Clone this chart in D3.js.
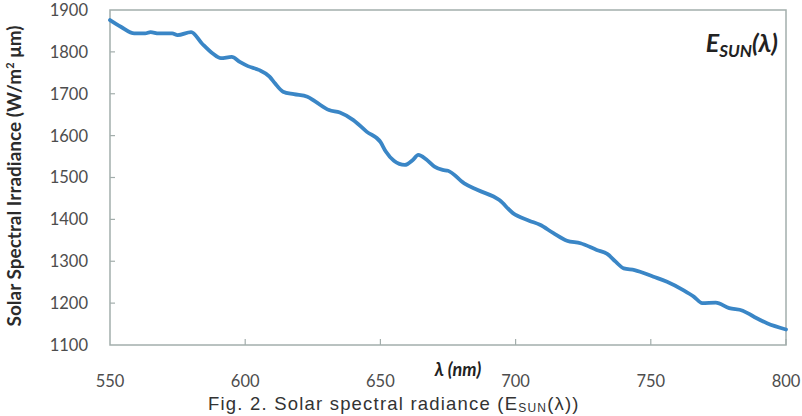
<!DOCTYPE html>
<html>
<head>
<meta charset="utf-8">
<script src="https://cdn.jsdelivr.net/npm/d3@7"></script>
<style>
  body { margin: 0; background: #fff; }
  svg { display: block; }
</style>
</head>
<body>
<svg id="chart"></svg>
<script>
// wavelength (nm) and irradiance
const wavelengths = [550, 554, 559, 563, 565, 568, 573, 575, 580, 584, 588, 591, 595, 598, 601, 605, 609, 611, 614, 618,
  623, 626, 631, 635, 640, 645, 650, 652, 655, 659, 662, 664, 667, 670, 673, 675, 681, 686, 694, 699,
  705, 709, 714, 719, 724, 730, 734, 737, 740, 744, 751, 756, 762, 766, 769, 774, 779, 784, 788, 793, 800];
const irradiance = [1876, 1860, 1844, 1844, 1847, 1844, 1844, 1840, 1847, 1820, 1796, 1785, 1788, 1776, 1766, 1757, 1741, 1725, 1705, 1699,
  1693, 1681, 1661, 1655, 1637, 1609, 1585, 1562, 1540, 1530, 1542, 1554, 1543, 1526, 1518, 1516, 1486, 1470, 1446, 1415,
  1397, 1387, 1367, 1349, 1343, 1327, 1317, 1299, 1283, 1279, 1263, 1251, 1231, 1215, 1200, 1201, 1188, 1182, 1168, 1152, 1137];
const xTicks = [550, 600, 650, 700, 750, 800];
const yTicks = [1100, 1200, 1300, 1400, 1500, 1600, 1700, 1800, 1900];

let width = 802;
let height = 416;
let plot = { left: 110, right: 786, top: 10, bottom: 345 };

const svg = d3.select('#chart')
  .attr('width', width)
  .attr('height', height);

let xScale = d3.scaleLinear().domain([550, 800]).range([plot.left, plot.right]);
let yScale = d3.scaleLinear().domain([1100, 1900]).range([plot.bottom, plot.top]);

const frameColor = '#a3aeac';
const tickFont = 'Lato, "Open Sans", sans-serif';

// plot frame
svg.append('rect')
  .attr('x', plot.left)
  .attr('y', plot.top)
  .attr('width', plot.right - plot.left)
  .attr('height', plot.bottom - plot.top)
  .attr('fill', 'none')
  .attr('stroke', frameColor)
  .attr('stroke-width', 1.5);

// inward ticks
svg.append('g').selectAll('line')
  .data(yTicks.slice(1, -1))
  .join('line')
  .attr('x1', plot.left).attr('x2', plot.left + 5)
  .attr('y1', d => yScale(d)).attr('y2', d => yScale(d))
  .attr('stroke', frameColor).attr('stroke-width', 1.2);

svg.append('g').selectAll('line')
  .data(xTicks.slice(1))
  .join('line')
  .attr('x1', d => xScale(d)).attr('x2', d => xScale(d))
  .attr('y1', plot.bottom).attr('y2', plot.bottom - 6)
  .attr('stroke', frameColor).attr('stroke-width', 1.2);

// tick labels
svg.append('g').selectAll('text')
  .data(yTicks)
  .join('text')
  .attr('x', 88)
  .attr('y', d => yScale(d))
  .attr('dy', '0.36em')
  .attr('text-anchor', 'end')
  .attr('font-family', tickFont)
  .attr('font-size', 16.5)
  .attr('fill', '#4d4d4d')
  .text(d => d);

svg.append('g').selectAll('text')
  .data(xTicks)
  .join('text')
  .attr('x', d => xScale(d))
  .attr('y', 387)
  .attr('text-anchor', 'middle')
  .attr('font-family', tickFont)
  .attr('font-size', 16.5)
  .attr('fill', '#4d4d4d')
  .text(d => d);

// the curve
const points = wavelengths.map((w, i) => [w, irradiance[i]]);
const line = d3.line()
  .x(d => xScale(d[0]))
  .y(d => yScale(d[1]))
  .curve(d3.curveMonotoneX);

svg.append('path')
  .datum(points)
  .attr('d', line)
  .attr('fill', 'none')
  .attr('stroke', '#3a86c6')
  .attr('stroke-width', 3.8)
  .attr('stroke-linejoin', 'round')
  .attr('stroke-linecap', 'round');

// axis titles
svg.append('text')
  .attr('transform', `translate(21,176) rotate(-90)`)
  .attr('text-anchor', 'middle')
  .attr('font-family', tickFont)
  .attr('font-weight', 'bold')
  .attr('font-size', 19)
  .attr('fill', '#2b2b2b')
  .call(t => {
    t.append('tspan').text('Solar Spectral Irradiance  (W/m');
    t.append('tspan').attr('font-size', 11).attr('dy', -7).text('2');
    t.append('tspan').attr('dy', 7).text('  \u03bcm)');
  });

svg.append('text')
  .attr('x', 458)
  .attr('y', 376)
  .attr('text-anchor', 'middle')
  .attr('font-family', tickFont)
  .attr('font-weight', 'bold')
  .attr('font-style', 'italic')
  .attr('font-size', 18)
  .attr('fill', '#222')
  .text('\u03bb (nm)');

// legend-like label
svg.append('text')
  .attr('x', 778)
  .attr('y', 52)
  .attr('text-anchor', 'end')
  .attr('font-family', tickFont)
  .attr('font-weight', 'bold')
  .attr('font-style', 'italic')
  .attr('font-size', 25)
  .attr('fill', '#222')
  .call(t => {
    t.append('tspan').text('E');
    t.append('tspan').attr('font-size', 17).attr('dy', 5).text('SUN');
    t.append('tspan').attr('dy', -5).text('(\u03bb)');
  });

// caption at the bottom edge like the source
svg.append('text')
  .attr('x', 208)
  .attr('y', 410)
  .attr('font-family', '"Liberation Sans", Arial, sans-serif')
  .attr('font-size', 18.5)
  .attr('letter-spacing', 1.2)
  .attr('fill', '#333')
  .call(t => {
    t.append('tspan').text('Fig. 2.  Solar spectral radiance (E');
    t.append('tspan').attr('font-size', 12).attr('dy', 2).text('SUN');
    t.append('tspan').attr('dy', -2).text('(\u03bb))');
  });
</script>
</body>
</html>
